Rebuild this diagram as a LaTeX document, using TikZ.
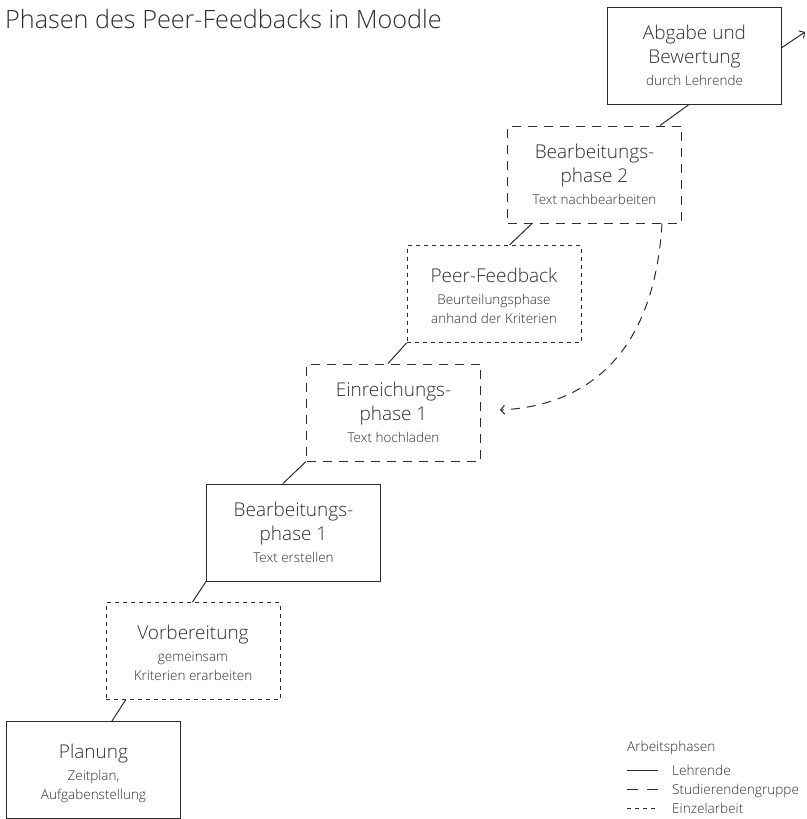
\documentclass[tikz,border=0pt]{standalone}
\usepackage{fontspec}
\setmainfont{Open Sans}[UprightFont=* Light]
\usetikzlibrary{calc,arrows.meta}
\definecolor{ink}{HTML}{2B2B2B}
\definecolor{txt}{HTML}{2E2E2E}
\tikzset{
  phase/.style={draw=ink, line width=1pt, minimum width=174pt, minimum height=97pt, inner sep=0pt},
  lehr/.style={solid},
  grp/.style={dash pattern=on 9pt off 7pt},
  einz/.style={dash pattern=on 4pt off 4pt},
  tt/.style={text=txt, inner sep=0pt, font=\fontsize{19}{22}\selectfont},
  st/.style={text=txt, inner sep=0pt, font=\fontsize{13.5}{16}\selectfont},
  lg/.style={text=txt, inner sep=0pt, font=\fontsize{13.6}{16}\selectfont, anchor=base west},
  conn/.style={draw=ink, line width=1pt},
  tip/.style={-{Straight Barb[length=4pt,width=9pt]}}
}
\newcommand\twoone[6]{%
  \node[phase,#3] (#1) at (#2) {};
  \node[tt, anchor=base] (#1a) at ($(#1.center)+(0,-15.8)$) {#4};
  \node[tt, anchor=base] (#1b) at ($(#1.center)+(0,8.2)$) {#5};
  \node[st, anchor=base] (#1c) at ($(#1.center)+(0,29.5)$) {#6};
}
\newcommand\onetwo[6]{%
  \node[phase,#3] (#1) at (#2) {};
  \node[tt, anchor=base] (#1a) at ($(#1.center)+(0,-11.8)$) {#4};
  \node[st, anchor=base] (#1b) at ($(#1.center)+(0,10.5)$) {#5};
  \node[st, anchor=base] (#1c) at ($(#1.center)+(0,29.5)$) {#6};
}
\begin{document}
\begin{tikzpicture}[x=1pt,y=-1pt]
\useasboundingbox (0,0) rectangle (806,819);
\node[text=txt, inner sep=0pt, font=\fontsize{25.2}{28}\selectfont, anchor=base west] (title) at (5,28) {Phasen des Peer-Feedbacks in Moodle};

\onetwo{plan}{93.5,770}{lehr}{Planung}{Zeitplan,}{Aufgabenstellung}
\onetwo{vorb}{193,651}{einz}{Vorbereitung}{gemeinsam}{Kriterien erarbeiten}
\twoone{bpa}{293.5,532.5}{lehr}{Bearbeitungs-}{phase 1}{Text erstellen}
\twoone{ein}{393.5,412.5}{grp}{Einreichungs-}{phase 1}{Text hochladen}
\onetwo{pf}{494,294}{einz}{Peer-Feedback}{Beurteilungsphase}{anhand der Kriterien}
\twoone{bpb}{594.5,174.5}{grp}{Bearbeitungs-}{phase 2}{Text nachbearbeiten}
\twoone{abg}{694.5,55.5}{lehr}{Abgabe und}{Bewertung}{durch Lehrende}

% connectors between phases
\draw[conn] ($(vorb.south west)+(20,0)$) -- ($(plan.north west)+(106,0)$);
\draw[conn] (bpa.south west) -- ($(vorb.north west)+(87,0)$);
\draw[conn] (ein.south west) -- ($(bpa.north west)+(77,0)$);
\draw[conn] (pf.south west) -- ($(ein.north west)+(82,0)$);
\draw[conn] ($(bpb.south west)+(25,0)$) -- ($(pf.north west)+(103,0)$);
\draw[conn] ($(abg.south west)+(82,0)$) -- ($(bpb.north west)+(153,0)$);

% outgoing arrow
\coordinate (out) at (805,32);
\draw[conn,tip] ($(abg.east)+(0,-8)$) -- (out);

% feedback loop
\coordinate (back) at (500,410);
\draw[conn,grp,tip] ($(bpb.south west)+(155,0)$) .. controls (655,340) and (600,405) .. (back);

% legend
\node[lg] (lgh) at (627,751) {Arbeitsphasen};
\coordinate (l1a) at (627,770); \coordinate (l1b) at (658,770);
\coordinate (l2a) at (627,789); \coordinate (l2b) at (658,789);
\coordinate (l3a) at (627,808); \coordinate (l3b) at (658,808);
\draw[conn] (l1a) -- (l1b);
\draw[conn,dash pattern=on 11pt off 9pt] (l2a) -- (l2b);
\draw[conn,einz] (l3a) -- (l3b);
\node[lg] (lg1) at (672,775) {Lehrende};
\node[lg] (lg2) at (672,794) {Studierendengruppe};
\node[lg] (lg3) at (672,813) {Einzelarbeit};
\end{tikzpicture}
\end{document}
